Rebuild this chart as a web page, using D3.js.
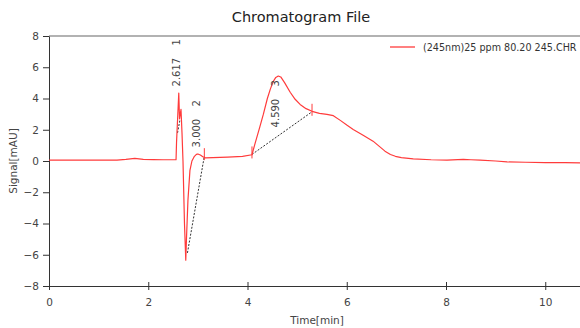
<!DOCTYPE html>
<html>
<head>
<meta charset="utf-8">
<script src="https://cdn.jsdelivr.net/npm/d3@7"></script>
<style>
  body { margin: 0; background: #fff; }
  svg { display: block; font-family: "DejaVu Sans", Verdana, sans-serif; }
</style>
</head>
<body>
<svg id="chart" width="580" height="328"></svg>
<script>
// signal trace
var times = [0, 0.3, 0.7, 1.0, 1.37, 1.55, 1.73, 1.9, 2.1, 2.3, 2.54, 2.56, 2.57, 2.615, 2.63, 2.66, 2.68, 2.70, 2.73, 2.756,
  2.77, 2.8, 2.84, 2.88, 2.93, 2.97, 3.0, 3.05, 3.1, 3.15, 3.3, 3.6, 3.9, 4.09, 4.15, 4.25, 4.32, 4.4, 4.46, 4.52,
  4.57, 4.62, 4.67, 4.75, 4.86, 4.96, 5.06, 5.18, 5.3, 5.45, 5.6, 5.73, 5.87, 6.0, 6.13, 6.33, 6.53, 6.65, 6.77, 6.88,
  6.98, 7.1, 7.34, 7.7, 8.02, 8.35, 8.5, 8.69, 9.0, 9.23, 9.6, 10.0, 10.4, 10.8];
var signal = [0.05, 0.06, 0.05, 0.06, 0.05, 0.1, 0.17, 0.1, 0.09, 0.08, 0.08, 0.08, 1.2, 4.35, 2.7, 3.3, 1.8, 0, -4, -6.35,
  -5.0, -2.5, -0.6, 0.0, 0.3, 0.42, 0.45, 0.38, 0.27, 0.2, 0.22, 0.25, 0.3, 0.4, 1.1, 2.2, 3.0, 4.0, 4.6, 5.1,
  5.35, 5.44, 5.38, 5.0, 4.4, 3.95, 3.62, 3.35, 3.18, 3.05, 2.98, 2.9, 2.6, 2.3, 2.02, 1.65, 1.27, 0.95, 0.63, 0.42,
  0.3, 0.22, 0.14, 0.08, 0.05, 0.1, 0.08, 0.05, 0.0, -0.06, -0.08, -0.1, -0.11, -0.12];

// integration baselines [t0, y0, t1, y1]
var baselines = [[2.59, 1.8, 2.64, 2.65], [2.79, -5.88, 3.13, 0.31], [4.09, 0.42, 5.30, 3.15]];
var baseMarks = [[3.13, 0.31], [4.09, 0.42], [5.30, 3.15]];

// peak labels: retention time, peak number, label foot (signal units)
var peakTimes = ["2.617", "3.000", "4.590"];
var peakNums = ["1", "2", "3"];
var peakLabelAt = [[2.56, 4.77], [2.96, 0.87], [4.55, 2.15]];

var yTicks = [-8, -6, -4, -2, 0, 2, 4, 6, 8];
var xTicks = [0, 2, 4, 6, 8, 10];

var width = 580, height = 328,
  margin = { top: 36, right: 0, bottom: 42, left: 49 };

var svg = d3.select("#chart");

var x = d3.scaleLinear().domain([0, 10.7]).range([margin.left, width - margin.right]);
var y = d3.scaleLinear().domain([-8, 8]).range([height - margin.bottom, margin.top]);

svg.append("defs").append("clipPath").attr("id", "clip")
  .append("rect")
  .attr("x", margin.left).attr("y", margin.top)
  .attr("width", width - margin.left - margin.right)
  .attr("height", height - margin.top - margin.bottom);

// title
svg.append("text")
  .attr("x", 301).attr("y", 22)
  .attr("text-anchor", "middle")
  .attr("font-size", 14.5)
  .attr("fill", "#222")
  .text("Chromatogram File");

// top frame line
svg.append("line")
  .attr("x1", margin.left).attr("x2", width)
  .attr("y1", margin.top).attr("y2", margin.top)
  .attr("stroke", "#999").attr("stroke-width", 1.5);

// axes
var xAxis = svg.append("g")
  .attr("transform", "translate(0," + (height - margin.bottom) + ")")
  .call(d3.axisBottom(x).tickValues(xTicks).tickSize(4).tickSizeOuter(0).tickPadding(9));
xAxis.selectAll(".tick line").attr("y1", -4);

var yAxis = svg.append("g")
  .attr("transform", "translate(" + margin.left + ",0)")
  .call(d3.axisLeft(y).tickValues(yTicks).tickSize(6).tickSizeOuter(0).tickPadding(4));

[xAxis, yAxis].forEach(function (a) {
  a.select(".domain").attr("stroke", "#333");
  a.selectAll(".tick line").attr("stroke", "#333");
  a.selectAll(".tick text").attr("fill", "#444").attr("font-size", 10.5)
    .attr("font-family", "DejaVu Sans, Verdana, sans-serif");
});

// axis titles
svg.append("text")
  .attr("x", 317).attr("y", 324)
  .attr("text-anchor", "middle")
  .attr("font-size", 10.5).attr("fill", "#444")
  .text("Time[min]");

svg.append("text")
  .attr("transform", "translate(17,161) rotate(-90)")
  .attr("text-anchor", "middle")
  .attr("font-size", 10.5).attr("fill", "#444")
  .text("Signal[mAU]");

var plot = svg.append("g").attr("clip-path", "url(#clip)");

// baselines
plot.selectAll(".base")
  .data(baselines)
  .enter().append("line")
  .attr("x1", function (d) { return x(d[0]); })
  .attr("y1", function (d) { return y(d[1]); })
  .attr("x2", function (d) { return x(d[2]); })
  .attr("y2", function (d) { return y(d[3]); })
  .attr("stroke", "#333").attr("stroke-width", 1)
  .attr("stroke-dasharray", "2,1.5");

// trace
var line = d3.line()
  .x(function (d, i) { return x(times[i]); })
  .y(function (d) { return y(d); });

plot.append("path")
  .datum(signal)
  .attr("d", line)
  .attr("fill", "none")
  .attr("stroke", "#ff3b3b")
  .attr("stroke-width", 1.2)
  .attr("stroke-linejoin", "round");

// baseline end marks
plot.selectAll(".mark")
  .data(baseMarks)
  .enter().append("line")
  .attr("x1", function (d) { return x(d[0]); })
  .attr("x2", function (d) { return x(d[0]); })
  .attr("y1", function (d) { return y(d[1]) - 8; })
  .attr("y2", function (d) { return y(d[1]) + 4; })
  .attr("stroke", "#ff3b3b").attr("stroke-width", 1);

// peak labels
peakLabelAt.forEach(function (p, i) {
  var g = svg.append("g")
    .attr("transform", "translate(" + (x(p[0]) + 4) + "," + y(p[1]) + ") rotate(-90)");
  g.append("text")
    .attr("x", 0).attr("y", 0)
    .attr("font-size", 10).attr("fill", "#444")
    .text(peakTimes[i]);
  g.append("text")
    .attr("x", 41).attr("y", 0)
    .attr("font-size", 10).attr("fill", "#444")
    .text(peakNums[i]);
});

// legend
var legend = svg.append("g");
legend.append("line")
  .attr("x1", 390).attr("x2", 415)
  .attr("y1", 47).attr("y2", 47)
  .attr("stroke", "#ff3b3b").attr("stroke-width", 1.3);
legend.append("text")
  .attr("x", 423).attr("y", 51)
  .attr("font-size", 9.6).attr("fill", "#333")
  .text("(245nm)25 ppm 80.20 245.CHR");
</script>
</body>
</html>
